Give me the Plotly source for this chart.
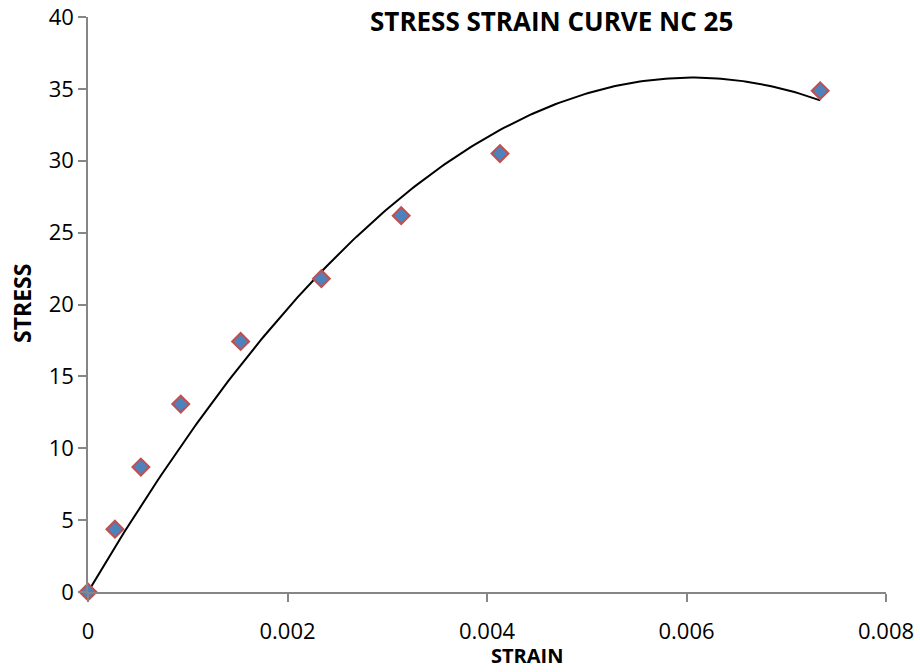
import numpy as np
import plotly.graph_objects as go

strain = [0.0, 0.00027, 0.00053, 0.00093, 0.00153, 0.00234, 0.00314, 0.00413, 0.00734]
stress = [0.0, 4.37, 8.69, 13.07, 17.43, 21.8, 26.18, 30.5, 34.87]

x_ticks = [0, 0.002, 0.004, 0.006, 0.008]
x_ticklabels = ["0", "0.002", "0.004", "0.006", "0.008"]
y_ticks = [0, 5, 10, 15, 20, 25, 30, 35, 40]

# polynomial (order 2) trendline fitted from the data, intercept fixed at 0
sx = np.array(strain)
sy = np.array(stress)
A = np.vstack([sx, sx ** 2]).T
(c1, c2), *_ = np.linalg.lstsq(A, sy, rcond=None)
xs = np.linspace(0, sx.max(), 200)
ys = c1 * xs + c2 * xs ** 2

fig = go.Figure()
fig.add_trace(go.Scatter(x=xs, y=ys, mode="lines",
                         line=dict(color="black", width=2), showlegend=False,
                         hoverinfo="skip", cliponaxis=False))
fig.add_trace(go.Scatter(x=strain, y=stress, mode="markers",
                         marker=dict(symbol="diamond", size=13, color="#4F81BD",
                                     line=dict(color="#C0504D", width=2)),
                         showlegend=False, cliponaxis=False))

font = "Open Sans"
fig.update_layout(
    width=920, height=672,
    margin=dict(l=88, r=34, t=17, b=80),
    paper_bgcolor="white", plot_bgcolor="white",
    font=dict(family=font, color="black", size=22),
    xaxis=dict(range=[0, 0.008], tickvals=x_ticks, ticktext=x_ticklabels,
               showgrid=False, zeroline=False, showline=True, automargin=False,
               linecolor="#868686", linewidth=1.5, ticks="outside",
               ticklen=8, tickcolor="#868686", tickwidth=1.5,
               ticklabelstandoff=11),
    yaxis=dict(range=[0, 40], tickvals=y_ticks, automargin=False,
               showgrid=False, zeroline=False, showline=True,
               linecolor="#868686", linewidth=1.5, ticks="outside",
               ticklen=8, tickcolor="#868686", tickwidth=1.5),
    annotations=[
        dict(text="<b>STRESS STRAIN CURVE NC 25</b>", xref="paper", yref="paper",
             x=(551 - 88) / 798, y=1 - (21 - 17) / 575, xanchor="center", yanchor="middle",
             showarrow=False, font=dict(size=26, family=font)),
        dict(text="<b>STRAIN</b>", xref="paper", yref="paper",
             x=(527 - 88) / 798, y=-(655 - 592) / 575, xanchor="center", yanchor="middle",
             showarrow=False, font=dict(size=20, family=font)),
        dict(text="<b>STRESS</b>", xref="paper", yref="paper", textangle=-90,
             x=-(88 - 22) / 798, y=(592 - 304) / 575, xanchor="center", yanchor="middle",
             showarrow=False, font=dict(size=23, family=font)),
    ],
)

fig.write_html("out.html")
